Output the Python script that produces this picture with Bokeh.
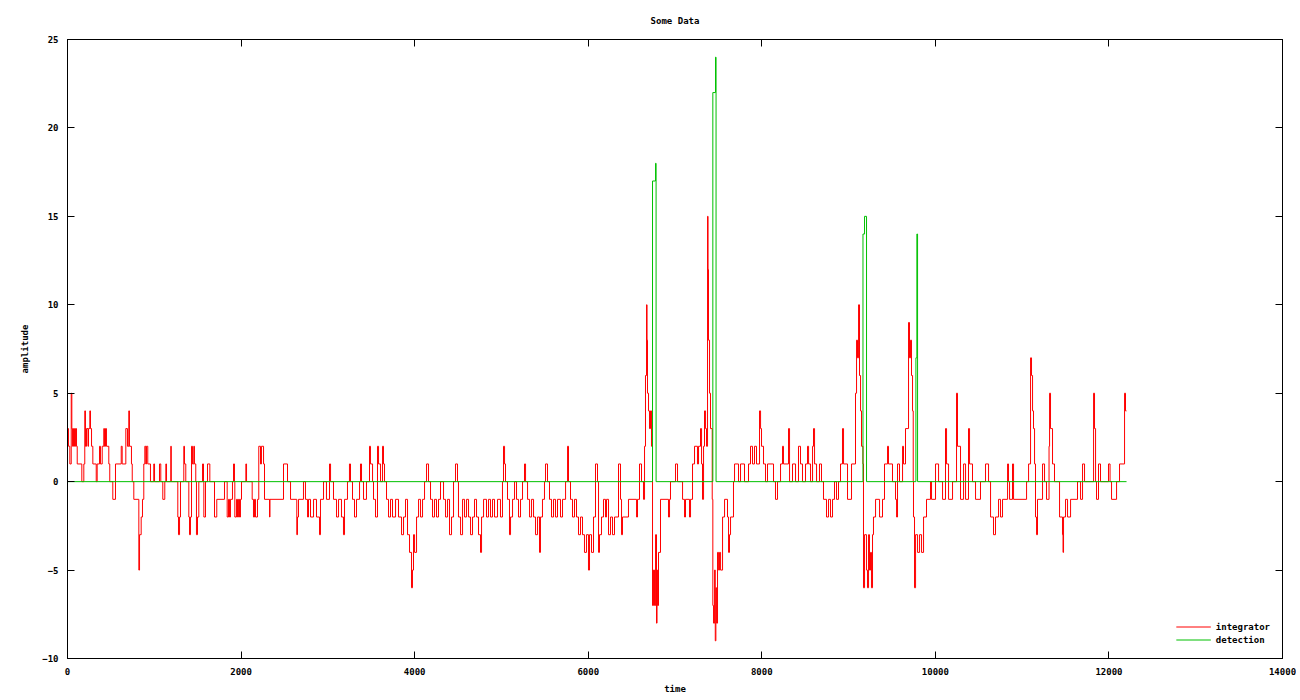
from bokeh.plotting import figure
from bokeh.models import Range1d, LinearAxis, Legend, LegendItem, FixedTicker
from bokeh.embed import file_html
from bokeh.resources import INLINE

# ---------------- data ----------------
title_text = "Some Data"
x_label = "time"
y_label = "amplitude"
x_ticks = [0, 2000, 4000, 6000, 8000, 10000, 12000, 14000]
y_ticks = [-10, -5, 0, 5, 10, 15, 20, 25]

# integrator: step-change times and levels
int_t = [
    0, 12, 27, 43, 50, 58, 69, 81, 92, 104,
    112, 165, 188, 199, 207, 219, 236, 242, 257, 265,
    277, 292, 331, 342, 369, 380, 400, 418, 426, 438,
    449, 476, 487, 522, 553, 619, 630, 672, 691, 706,
    714, 737, 746, 764, 822, 830, 849, 864, 879, 891,
    902, 910, 925, 956, 994, 1003, 1060, 1075, 1098, 1121,
    1133, 1141, 1190, 1196, 1271, 1279, 1291, 1302, 1340, 1348,
    1363, 1398, 1406, 1417, 1429, 1440, 1455, 1463, 1478, 1486,
    1498, 1513, 1556, 1567, 1571, 1590, 1613, 1640, 1694, 1720,
    1809, 1840, 1855, 1867, 1878, 1901, 1913, 1924, 1928, 1947,
    1959, 1970, 1982, 1993, 2005, 2055, 2063, 2128, 2143, 2155,
    2166, 2189, 2204, 2224, 2235, 2259, 2270, 2328, 2333, 2489,
    2535, 2570, 2642, 2650, 2662, 2719, 2742, 2766, 2777, 2800,
    2835, 2869, 2904, 2915, 2950, 2984, 3019, 3031, 3065, 3100,
    3123, 3157, 3180, 3192, 3226, 3249, 3261, 3284, 3307, 3330,
    3365, 3376, 3388, 3411, 3445, 3480, 3491, 3515, 3526, 3549,
    3572, 3584, 3607, 3630, 3641, 3653, 3676, 3699, 3722, 3745,
    3780, 3814, 3849, 3872, 3895, 3918, 3941, 3964, 3975, 3987,
    3999, 4022, 4045, 4068, 4091, 4114, 4137, 4160, 4183, 4206,
    4229, 4252, 4275, 4298, 4333, 4356, 4379, 4402, 4425, 4448,
    4471, 4494, 4505, 4529, 4552, 4575, 4598, 4621, 4644, 4667,
    4690, 4713, 4736, 4759, 4771, 4794, 4828, 4851, 4874, 4897,
    4920, 4955, 4989, 5012, 5024, 5036, 5047, 5070, 5093, 5105,
    5128, 5151, 5174, 5197, 5220, 5243, 5266, 5278, 5301, 5324,
    5347, 5370, 5393, 5416, 5439, 5450, 5473, 5496, 5508, 5531,
    5554, 5577, 5600, 5623, 5646, 5681, 5704, 5739, 5762, 5773,
    5796, 5819, 5842, 5865, 5888, 5911, 5934, 5957, 5980, 6003,
    6015, 6038, 6061, 6084, 6107, 6119, 6130, 6153, 6176, 6199,
    6211, 6234, 6257, 6280, 6303, 6349, 6372, 6384, 6395, 6464,
    6557, 6568, 6591, 6614, 6637, 6649, 6660, 6672, 6678, 6683,
    6695, 6706, 6718, 6729, 6741, 6752, 6764, 6776, 6787, 6793,
    6799, 6810, 6833, 6925, 6937, 6948, 7006, 7029, 7087, 7110,
    7121, 7167, 7179, 7202, 7225, 7259, 7271, 7294, 7306, 7317,
    7329, 7340, 7352, 7363, 7375, 7381, 7386, 7398, 7409, 7429,
    7436, 7444, 7456, 7464, 7471, 7479, 7490, 7502, 7513, 7525,
    7548, 7571, 7605, 7617, 7628, 7640, 7674, 7686, 7732, 7755,
    7801, 7847, 7870, 7893, 7916, 7939, 7974, 7986, 7997, 8020,
    8043, 8066, 8135, 8158, 8181, 8216, 8239, 8250, 8308, 8320,
    8354, 8389, 8423, 8446, 8469, 8504, 8527, 8539, 8562, 8585,
    8596, 8608, 8631, 8665, 8688, 8711, 8746, 8769, 8792, 8815,
    8838, 8861, 8884, 8907, 8930, 8942, 8988, 9034, 9080, 9092,
    9103, 9115, 9126, 9138, 9149, 9166, 9172, 9184, 9207, 9218,
    9230, 9241, 9253, 9264, 9276, 9287, 9311, 9357, 9391, 9414,
    9449, 9460, 9506, 9541, 9553, 9564, 9587, 9622, 9633, 9656,
    9691, 9702, 9714, 9725, 9737, 9745, 9748, 9760, 9772, 9795,
    9818, 9841, 9864, 9898, 9944, 9956, 10002, 10037, 10083, 10117,
    10129, 10152, 10198, 10244, 10255, 10290, 10325, 10348, 10382, 10394,
    10428, 10463, 10520, 10578, 10613, 10636, 10670, 10693, 10728, 10751,
    10774, 10832, 10843, 10855, 10889, 10901, 11051, 11074, 11097, 11108,
    11120, 11131, 11143, 11154, 11166, 11177, 11235, 11258, 11281, 11310,
    11316, 11327, 11350, 11373, 11431, 11465, 11471, 11477, 11500, 11523,
    11558, 11638, 11673, 11696, 11719, 11823, 11834, 11846, 11857, 11880,
    11903, 11995, 12013, 12030, 12088, 12122, 12180, 12191, 12203,
]
int_v = [
    3, 2, 1, 5, 3, 2, 3, 2, 3, 2,
    1, 0, 1, 4, 2, 3, 2, 3, 4, 3,
    2, 1, 0, 1, 2, 1, 2, 3, 2, 3,
    2, 1, 0, -1, 1, 2, 1, 3, 2, 4,
    2, 1, 0, -1, -5, -3, -2, -1, 1, 2,
    1, 2, 1, 0, 1, 0, 1, 0, -1, 0,
    1, 0, 2, 0, -2, -3, -2, 0, 2, 1,
    0, -2, -3, -2, 2, 1, 2, 1, 0, -3,
    -2, 0, 1, 0, -2, 0, 1, 0, -2, -1,
    0, -2, -1, -2, -1, 0, 1, 0, -2, -1,
    -2, -1, -2, -1, 0, 1, 0, -1, -2, -1,
    -2, -1, 2, 1, 2, 1, -1, -2, -1, 1,
    0, -1, -3, -2, -1, 0, -1, -2, -1, -2,
    -1, -2, -3, -1, 0, -1, 1, 0, -1, -2,
    -1, -2, -3, -1, 0, 1, 0, -1, -2, -1,
    0, 1, 0, -1, 0, 2, 1, 0, -1, -2,
    2, 1, 0, 2, 1, 0, -1, -2, -1, -2,
    -1, -2, -3, -2, -1, -3, -4, -6, -5, -3,
    -4, -2, -1, -2, -1, 0, 1, 0, -1, -2,
    -1, -2, -1, 0, -1, -2, -1, -3, -2, 0,
    1, 0, -2, -3, -1, -2, -1, -2, -3, -2,
    -1, -2, -3, -4, -2, -1, -2, -1, -2, -1,
    -2, -1, -2, 0, 2, 1, 0, -1, -3, -2,
    -1, 0, -1, -2, -1, 0, 1, 0, -1, -2,
    -1, -2, -3, -2, -4, -2, -1, 0, 1, 0,
    -1, -2, -1, -2, -1, -2, -1, 0, 2, 0,
    -1, -2, -1, -2, -3, -2, -3, -4, -3, -5,
    -3, -4, -2, 1, 0, -4, -3, -2, -1, -2,
    -1, -3, -2, -3, -2, 1, -1, -3, -2, -1,
    -2, -1, 1, 0, -1, 2, 6, 10, 8, 5,
    4, 3, 4, 2, -7, -5, -7, -3, -8, -5,
    -7, -4, -1, -2, -1, 0, 1, 0, -1, -2,
    -1, -2, -1, 1, 2, 1, 2, 3, 1, -1,
    2, 4, 3, 2, 15, 12, 8, 5, 3, -1,
    -7, -8, -5, -9, -6, -8, -4, -5, -4, -5,
    -2, -1, -2, -4, -3, -2, 0, 1, 0, 1,
    0, 1, 2, 1, 2, 1, 4, 3, 2, 1,
    0, 1, 0, -1, 0, 1, 2, 1, 3, 0,
    1, 0, 2, 1, 0, 1, 2, 1, 0, 2,
    3, 1, 0, 1, 0, -1, -2, -1, -2, -1,
    0, -1, 0, 1, 3, 1, -1, 1, 5, 8,
    7, 10, 6, 4, 2, 1, -6, -3, -5, -6,
    -3, -5, -4, -6, -3, -2, -1, -2, -1, 1,
    2, 1, 0, -1, -2, 1, 0, 2, 1, 3,
    9, 7, 8, 6, 4, 0, -2, -6, -3, -4,
    -3, -4, -2, -1, 0, -1, 1, 0, -1, 3,
    1, -1, 0, 5, 2, -1, 1, -1, 3, 1,
    0, -1, 0, 1, 0, -2, -3, -2, -1, -2,
    -1, 1, 0, -1, 1, -1, 0, 1, 7, 6,
    4, 3, 1, -2, -3, -1, 1, 0, -1, 2,
    5, 3, 1, 0, -2, -3, -4, -2, -1, -2,
    -1, 0, -1, 1, 0, 5, 3, 0, -1, 1,
    0, 1, 0, -1, 0, 1, 5, 4, 4,
]

# detection: step-change times and levels
det_t = [0, 6741, 6776, 6782, 7436, 7467, 7473, 9166, 9184, 9207, 9776, 9787, 9795, 12203]
det_v = [0, 17, 18, 0, 22, 24, 0, 14, 15, 0, 7, 14, 0, 0]

assert len(int_t) == len(int_v)
assert len(det_t) == len(det_v)

# ---------------- figure ----------------
FONT = "DejaVu Sans Mono"
FS = "9px"
W, H = 1296, 696

p = figure(width=W, height=H, output_backend="svg", toolbar_location=None,
           x_range=Range1d(0, 14000), y_range=Range1d(-10, 25),
           min_border_left=67, min_border_right=W - 1282,
           min_border_top=39, min_border_bottom=H - 658)

p.title.text = title_text
p.title.align = "center"
p.title.text_font = FONT
p.title.text_font_size = FS
p.title.text_font_style = "bold"
p.title.text_color = "black"
p.title.standoff = 27

p.xgrid.visible = False
p.ygrid.visible = False
p.outline_line_color = "black"
p.outline_line_width = 1
p.background_fill_color = "white"
p.border_fill_color = "white"

for ax, ticks, lab in ((p.xaxis[0], x_ticks, x_label), (p.yaxis[0], y_ticks, y_label)):
    ax.ticker = FixedTicker(ticks=ticks)
    ax.axis_label = lab
    ax.axis_label_text_font = FONT
    ax.axis_label_text_font_size = FS
    ax.axis_label_text_font_style = "bold"
    ax.axis_label_text_color = "black"
    ax.major_label_text_font = FONT
    ax.major_label_text_font_size = FS
    ax.major_label_text_font_style = "bold"
    ax.major_label_text_color = "black"
    ax.major_tick_in = 7
    ax.major_tick_out = 0
    ax.minor_tick_line_color = None
    ax.axis_line_color = "black"
    ax.major_tick_line_color = "black"

p.xaxis[0].major_label_standoff = 9
p.xaxis[0].axis_label_standoff = 6
p.yaxis[0].major_label_standoff = 9
p.yaxis[0].axis_label_standoff = 9

# mirrored tick marks on the top and right edges (no labels)
for side, ticks in (("above", x_ticks), ("right", y_ticks)):
    mirror = LinearAxis(ticker=FixedTicker(ticks=ticks),
                        major_label_overrides={t: "" for t in ticks},
                        major_label_text_color=None,
                        major_tick_in=7, major_tick_out=0, minor_tick_line_color=None,
                        axis_line_color="black", major_label_standoff=0)
    p.add_layout(mirror, side)

r_int = p.step(int_t, int_v, mode="after", line_color="#ff0000", line_width=1)
r_det = p.step(det_t, det_v, mode="after", line_color="#00c000", line_width=1)

legend = Legend(items=[LegendItem(label="integrator", renderers=[r_int]),
                       LegendItem(label="detection", renderers=[r_det])],
                location="bottom_right")
legend.label_text_font = FONT
legend.label_text_font_size = FS
legend.label_text_font_style = "bold"
legend.label_text_color = "black"
legend.background_fill_alpha = 0
legend.border_line_color = None
legend.glyph_width = 35
legend.glyph_height = 13
legend.label_height = 13
legend.spacing = 0
legend.padding = 4
legend.margin = 12
p.add_layout(legend)

open("out.html", "w").write(file_html(p, INLINE))
